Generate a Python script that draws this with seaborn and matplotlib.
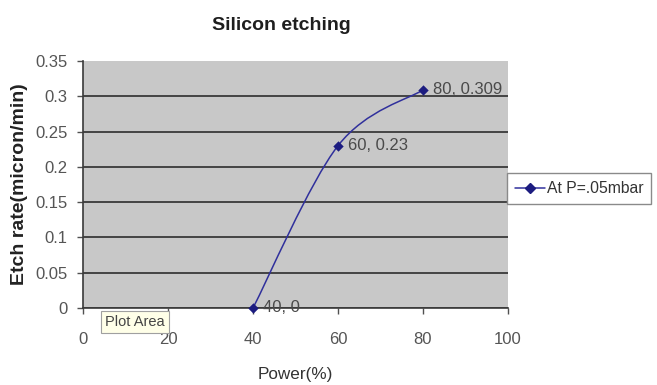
import numpy as np
import pandas as pd
import matplotlib
matplotlib.use("Agg")
import matplotlib.pyplot as plt
import seaborn as sns
from matplotlib.path import Path
from matplotlib.patches import PathPatch
from matplotlib.lines import Line2D

# Measured etch rate against RF power
power = [40, 60, 80]
etch_rate = [0, 0.23, 0.309]
point_labels = ["40, 0", "60, 0.23", "80, 0.309"]
series_name = "At P=.05mbar"

x_ticks = [0, 20, 40, 60, 80, 100]
y_ticks = [0, 0.05, 0.1, 0.15, 0.2, 0.25, 0.3, 0.35]
y_tick_labels = ["0", "0.05", "0.1", "0.15", "0.2", "0.25", "0.3", "0.35"]

title = "Silicon etching"
x_label = "Power(%)"
y_label = "Etch rate(micron/min)"

line_color = "#30309c"
marker_color = "#1c1c80"
text_color = "#4a4a4a"

sns.set_theme(style="white")
plt.rcParams["font.family"] = ["Liberation Sans", "DejaVu Sans"]

df = pd.DataFrame({"Power": power, "Etch": etch_rate})

fig = plt.figure(figsize=(6.57, 3.85), dpi=100)
ax = fig.add_axes([83 / 657, 77 / 385, 425 / 657, 247 / 385])
ax.set_facecolor("#c8c8c8")


def smooth_path(xs, ys):
    """Cubic Bezier through the points (Catmull-Rom style tangents)."""
    pts = np.column_stack([xs, ys]).astype(float)
    n = len(pts)
    verts = [pts[0]]
    codes = [Path.MOVETO]
    for i in range(n - 1):
        p_prev = pts[max(i - 1, 0)]
        p0 = pts[i]
        p1 = pts[i + 1]
        p_next = pts[min(i + 2, n - 1)]
        c1 = p0 + (p1 - p_prev) / 6.0
        c2 = p1 - (p_next - p0) / 6.0
        verts += [c1, c2, p1]
        codes += [Path.CURVE4] * 3
    return Path(verts, codes)


ax.add_patch(PathPatch(smooth_path(df["Power"], df["Etch"]), facecolor="none",
                       edgecolor=line_color, lw=1.1, zorder=3))

sns.scatterplot(data=df, x="Power", y="Etch", marker="D", s=28,
                color=marker_color, edgecolor=marker_color, linewidth=0,
                ax=ax, zorder=4, legend=False, clip_on=False)

for x, y, lab in zip(df["Power"], df["Etch"], point_labels):
    ax.annotate(lab, (x, y), xytext=(7.5, 0), textcoords="offset points",
                ha="left", va="center", fontsize=12, color=text_color,
                zorder=5, annotation_clip=False)

ax.set_xlim(0, 100)
ax.set_ylim(0, 0.35)
ax.set_xticks(x_ticks)
ax.set_yticks(y_ticks)
ax.set_yticklabels(y_tick_labels)

ax.yaxis.grid(True, color="#3a3a3a", lw=1.3)
ax.xaxis.grid(False)
ax.set_axisbelow(True)
ax.yaxis.get_gridlines()[-1].set_visible(False)

for side in ("top", "right"):
    ax.spines[side].set_visible(False)
for side in ("left", "bottom"):
    ax.spines[side].set_color("#3a3a3a")
    ax.spines[side].set_linewidth(1.2)

ax.tick_params(axis="both", direction="out", length=4, width=1,
               color="#505050", labelcolor="#555555", labelsize=12,
               bottom=True, left=True)
ax.tick_params(axis="x", pad=13)
ax.tick_params(axis="y", pad=7)

ax.set_xlabel(x_label, fontsize=12.3, color="#333333")
ax.xaxis.label.set_verticalalignment("center")
ax.xaxis.set_label_coords(0.5, (308 - 374) / 247)

ax.set_ylabel(y_label, fontsize=14, fontweight="bold", color="#222222")
ax.yaxis.label.set_verticalalignment("center")
ax.yaxis.set_label_coords((20 - 83) / 425, 0.5)

fig.text(281 / 657, 1 - 26 / 385, title, ha="center", va="center",
         fontsize=14, fontweight="bold", color="#1e1e1e")

handle = Line2D([], [], color=line_color, lw=1.1, marker="D", markersize=5,
                markerfacecolor=marker_color, markeredgecolor=marker_color)
leg = fig.legend([handle], [series_name], loc="center left",
                 bbox_to_anchor=(507 / 657, 1 - 188.5 / 385),
                 borderaxespad=0, borderpad=0.5, handlelength=1.9,
                 handletextpad=0.15, fontsize=11.3, frameon=True,
                 fancybox=False, framealpha=1)
leg.get_frame().set_edgecolor("#8a8a8a")
leg.get_frame().set_linewidth(1.0)
for t in leg.get_texts():
    t.set_color("#333333")

fig.text(135 / 657, 1 - 322 / 385, "Plot Area", ha="center", va="center",
         fontsize=10.5, color="#444444", zorder=10,
         bbox=dict(boxstyle="square,pad=0.3", fc="#ffffe8", ec="#a0a0a0", lw=0.8))

fig.savefig("out.png", dpi=100)
